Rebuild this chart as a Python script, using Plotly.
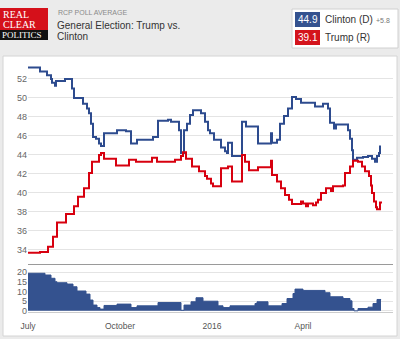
import plotly.graph_objects as go

# ---------------- data ----------------
clinton_dates = ["2015-07-01","2015-07-13","2015-07-20","2015-07-24","2015-07-25","2015-07-28","2015-07-29",
    "2015-08-07","2015-08-14","2015-08-16","2015-08-25","2015-08-29","2015-08-31","2015-09-02","2015-09-04",
    "2015-09-07","2015-09-10","2015-09-12","2015-09-15","2015-09-28","2015-10-07","2015-10-12","2015-10-18",
    "2015-11-03","2015-11-08","2015-11-18","2015-11-21","2015-11-29","2015-12-01","2015-12-04","2015-12-07",
    "2015-12-10","2015-12-13","2015-12-21","2015-12-25","2015-12-28","2015-12-30","2016-01-03","2016-01-10",
    "2016-01-14","2016-01-16","2016-01-17","2016-01-21","2016-01-31","2016-02-04","2016-02-16","2016-02-29",
    "2016-03-01","2016-03-06","2016-03-09","2016-03-13","2016-03-17","2016-03-21","2016-03-25","2016-03-30",
    "2016-04-13","2016-04-21","2016-04-26","2016-04-28","2016-05-02","2016-05-04","2016-05-16","2016-05-18",
    "2016-05-20","2016-05-21","2016-05-25","2016-05-31","2016-06-05","2016-06-09","2016-06-12","2016-06-14",
    "2016-06-16","2016-06-17","2016-06-18"]
clinton_values = [53.2,52.8,52.4,52.0,51.6,51.3,51.8,
    52.0,51.0,50.0,49.4,48.9,48.4,47.3,45.9,
    45.7,45.2,44.95,46.3,46.6,46.5,45.2,45.6,
    45.9,47.6,47.7,47.5,46.6,44.2,46.6,47.3,
    48.2,48.7,48.4,47.5,46.6,46.3,45.6,44.8,
    44.4,44.2,45.3,43.9,47.5,47.0,45.2,46.3,
    45.3,45.6,47.3,48.1,48.9,50.1,49.9,49.5,
    49.1,49.4,48.9,47.4,46.8,47.2,46.6,45.7,
    44.5,43.5,43.7,43.8,43.9,43.6,43.3,43.9,
    44.2,44.9,44.9]

trump_dates = ["2015-07-01","2015-07-13","2015-07-21","2015-07-26","2015-07-30","2015-08-08","2015-08-16",
    "2015-08-20","2015-08-26","2015-08-31","2015-09-03","2015-09-10","2015-09-12","2015-09-15","2015-09-27",
    "2015-10-10","2015-10-17","2015-11-02","2015-11-07","2015-11-25","2015-12-01","2015-12-03","2015-12-06",
    "2015-12-12","2015-12-19","2015-12-25","2015-12-27","2015-12-31","2016-01-02","2016-01-10","2016-01-17",
    "2016-01-21","2016-01-31","2016-02-03","2016-02-07","2016-02-16","2016-02-29","2016-03-01","2016-03-06",
    "2016-03-10","2016-03-14","2016-03-18","2016-03-21","2016-03-30","2016-04-01","2016-04-04","2016-04-06",
    "2016-04-11","2016-04-14","2016-04-16","2016-04-19","2016-04-24","2016-04-29","2016-05-01","2016-05-11",
    "2016-05-13","2016-05-18","2016-05-21","2016-05-26","2016-05-30","2016-06-02","2016-06-06","2016-06-08",
    "2016-06-09","2016-06-11","2016-06-13","2016-06-14","2016-06-17","2016-06-18"]
trump_values = [33.7,33.8,34.35,35.4,36.9,37.8,38.6,
    39.6,40.5,42.1,43.3,44.0,44.2,43.6,42.9,
    43.5,43.3,43.7,43.3,43.5,43.9,44.3,43.6,
    42.8,42.3,41.8,41.5,41.0,40.7,42.6,42.8,
    41.2,44.0,43.3,42.4,42.7,43.4,41.9,41.2,
    40.5,39.8,39.3,38.85,39.1,38.9,38.6,38.9,
    38.7,39.0,39.3,40.0,40.5,40.2,40.7,40.8,
    42.1,42.8,43.4,43.3,42.8,42.3,41.8,40.8,
    40.0,39.1,38.5,38.3,39.0,39.1]

spread_dates = ["2015-07-01","2015-07-18","2015-07-24","2015-07-28","2015-07-30","2015-08-09","2015-08-15",
    "2015-08-19","2015-08-28","2015-09-01","2015-09-04","2015-09-08","2015-09-11","2015-09-15","2015-09-28",
    "2015-10-12","2015-10-18","2015-11-08","2015-12-01","2015-12-04","2015-12-11","2015-12-16","2015-12-23",
    "2016-01-07","2016-01-12","2016-01-19","2016-02-13","2016-02-15","2016-02-26","2016-03-11","2016-03-16",
    "2016-03-22","2016-03-24","2016-04-01","2016-04-23","2016-04-28","2016-05-11","2016-05-18","2016-05-20",
    "2016-05-22","2016-05-26","2016-06-05","2016-06-10","2016-06-14","2016-06-18"]
spread_values = [19.5,18.6,16.9,15.1,14.6,13.9,12.5,
    10.3,8.7,5.6,3.0,1.7,0.9,2.8,3.5,
    1.7,2.6,4.3,0.3,3.0,4.7,6.8,5.0,
    2.6,1.7,2.6,3.8,4.7,2.6,3.8,6.4,
    9.0,11.3,10.6,9.4,7.3,6.4,5.2,1.2,
    0.0,1.2,1.9,3.8,5.9,5.8]

main_ticks = [34, 36, 38, 40, 42, 44, 46, 48, 50, 52]
spread_ticks = [0, 5, 10, 15, 20]
x_tick_dates = ["2015-07-01", "2015-10-01", "2016-01-01", "2016-04-01"]
x_tick_labels = ["July", "October", "2016", "April"]

clinton_latest = "44.9"
trump_latest = "39.1"
lead_text = "+5.8"

# ---------------- styling ----------------
W, H = 400, 339
BLUE = "#2d4b8e"
RED = "#d7000f"
FILL = "#34528f"

def px(x):
    return x / W

def py(y):
    return 1 - y / H

fig = go.Figure()

fig.add_trace(go.Scatter(x=clinton_dates, y=clinton_values, mode="lines",
                         line=dict(color=BLUE, width=2, shape="hv"),
                         xaxis="x", yaxis="y", hoverinfo="skip"))
fig.add_trace(go.Scatter(x=trump_dates, y=trump_values, mode="lines",
                         line=dict(color=RED, width=2, shape="hv"),
                         xaxis="x", yaxis="y", hoverinfo="skip"))
fig.add_trace(go.Scatter(x=spread_dates, y=spread_values, mode="lines",
                         line=dict(color=FILL, width=1, shape="hv"),
                         fill="tozeroy", fillcolor=FILL,
                         xaxis="x2", yaxis="y2", hoverinfo="skip"))

xr = ["2015-07-01", "2016-06-30"]
font_family = "Liberation Sans, Arial, sans-serif"
serif = "Liberation Serif, serif"

shapes = [
    dict(type="rect", xref="paper", yref="paper", x0=px(3), x1=px(397), y0=py(336), y1=py(56),
         fillcolor="white", line=dict(color="#d4d4d4", width=1), layer="below"),
    dict(type="rect", xref="paper", yref="paper", x0=px(0), x1=px(48), y0=py(30), y1=py(8),
         fillcolor="#d5101a", line=dict(width=0), layer="below"),
    dict(type="rect", xref="paper", yref="paper", x0=px(0), x1=px(48), y0=py(40), y1=py(30),
         fillcolor="#111111", line=dict(width=0), layer="below"),
    dict(type="rect", xref="paper", yref="paper", x0=px(292), x1=px(398), y0=py(48), y1=py(9),
         fillcolor="white", line=dict(color="#d0d0d0", width=1), layer="below"),
    dict(type="rect", xref="paper", yref="paper", x0=px(295), x1=px(320), y0=py(27), y1=py(12),
         fillcolor=FILL, line=dict(width=0), layer="below"),
    dict(type="rect", xref="paper", yref="paper", x0=px(295), x1=px(320), y0=py(45), y1=py(30),
         fillcolor="#d4141c", line=dict(width=0), layer="below"),
    dict(type="line", xref="paper", yref="paper", x0=px(28), x1=px(393), y0=py(264.5), y1=py(264.5),
         line=dict(color="#9a9a9a", width=1)),
]

def note(text, x, y, size, color, family=font_family, anchor="left"):
    return dict(text=text, x=px(x), y=py(y), xref="paper", yref="paper",
                xanchor=anchor, yanchor="middle", showarrow=False,
                font=dict(family=family, size=size, color=color))

annotations = [
    note("REAL", 1, 14, 10, "white", serif),
    note("CLEAR", 1, 24, 10, "white", serif),
    note("POLITICS", 0, 35, 9, "white", serif),
    note("RCP POLL AVERAGE", 56, 12.5, 7, "#8a8a8a"),
    note("General Election: Trump vs.", 55, 25, 10, "#333333"),
    note("Clinton", 55, 36.5, 10, "#333333"),
    note(clinton_latest, 307.5, 19.5, 10, "white", anchor="center"),
    note(trump_latest, 307.5, 37.5, 10, "white", anchor="center"),
    note("Clinton (D)", 323, 19.5, 10, "#333333"),
    note(lead_text, 374, 20.5, 7, "#777777"),
    note("Trump (R)", 323, 37.5, 10, "#333333"),
]

fig.update_layout(
    width=W, height=H,
    margin=dict(l=0, r=0, t=0, b=0, autoexpand=False),
    paper_bgcolor="#ebebeb",
    plot_bgcolor="rgba(0,0,0,0)",
    showlegend=False,
    font=dict(family=font_family, size=9, color="#666666"),
    shapes=shapes,
    annotations=annotations,
    xaxis=dict(domain=[px(28), px(393)], anchor="y", range=xr, type="date", automargin=False,
               showticklabels=False, showgrid=False, zeroline=False, showline=False),
    yaxis=dict(domain=[py(265), py(58)], anchor="x", range=[32.42, 54.21], automargin=False,
               tickvals=main_ticks, showgrid=True, gridcolor="#e4e4e4", gridwidth=1,
               zeroline=False, showline=False, ticks="", tickfont=dict(size=9, color="#666666")),
    xaxis2=dict(domain=[px(28), px(393)], anchor="y2", range=xr, type="date", automargin=False,
                tickvals=x_tick_dates, ticktext=x_tick_labels, showgrid=False, zeroline=False,
                showline=True, linecolor="#cccccc", linewidth=1,
                ticks="outside", ticklen=6, tickcolor="rgba(0,0,0,0)",
                tickfont=dict(size=8.5, color="#555555")),
    yaxis2=dict(domain=[py(312), py(265)], anchor="x2", range=[-0.6, 23.8], automargin=False,
                tickvals=spread_ticks, showgrid=True, gridcolor="#e4e4e4", gridwidth=1,
                zeroline=False, showline=False, ticks="", tickfont=dict(size=9, color="#666666")),
)

fig.write_html("out.html")
